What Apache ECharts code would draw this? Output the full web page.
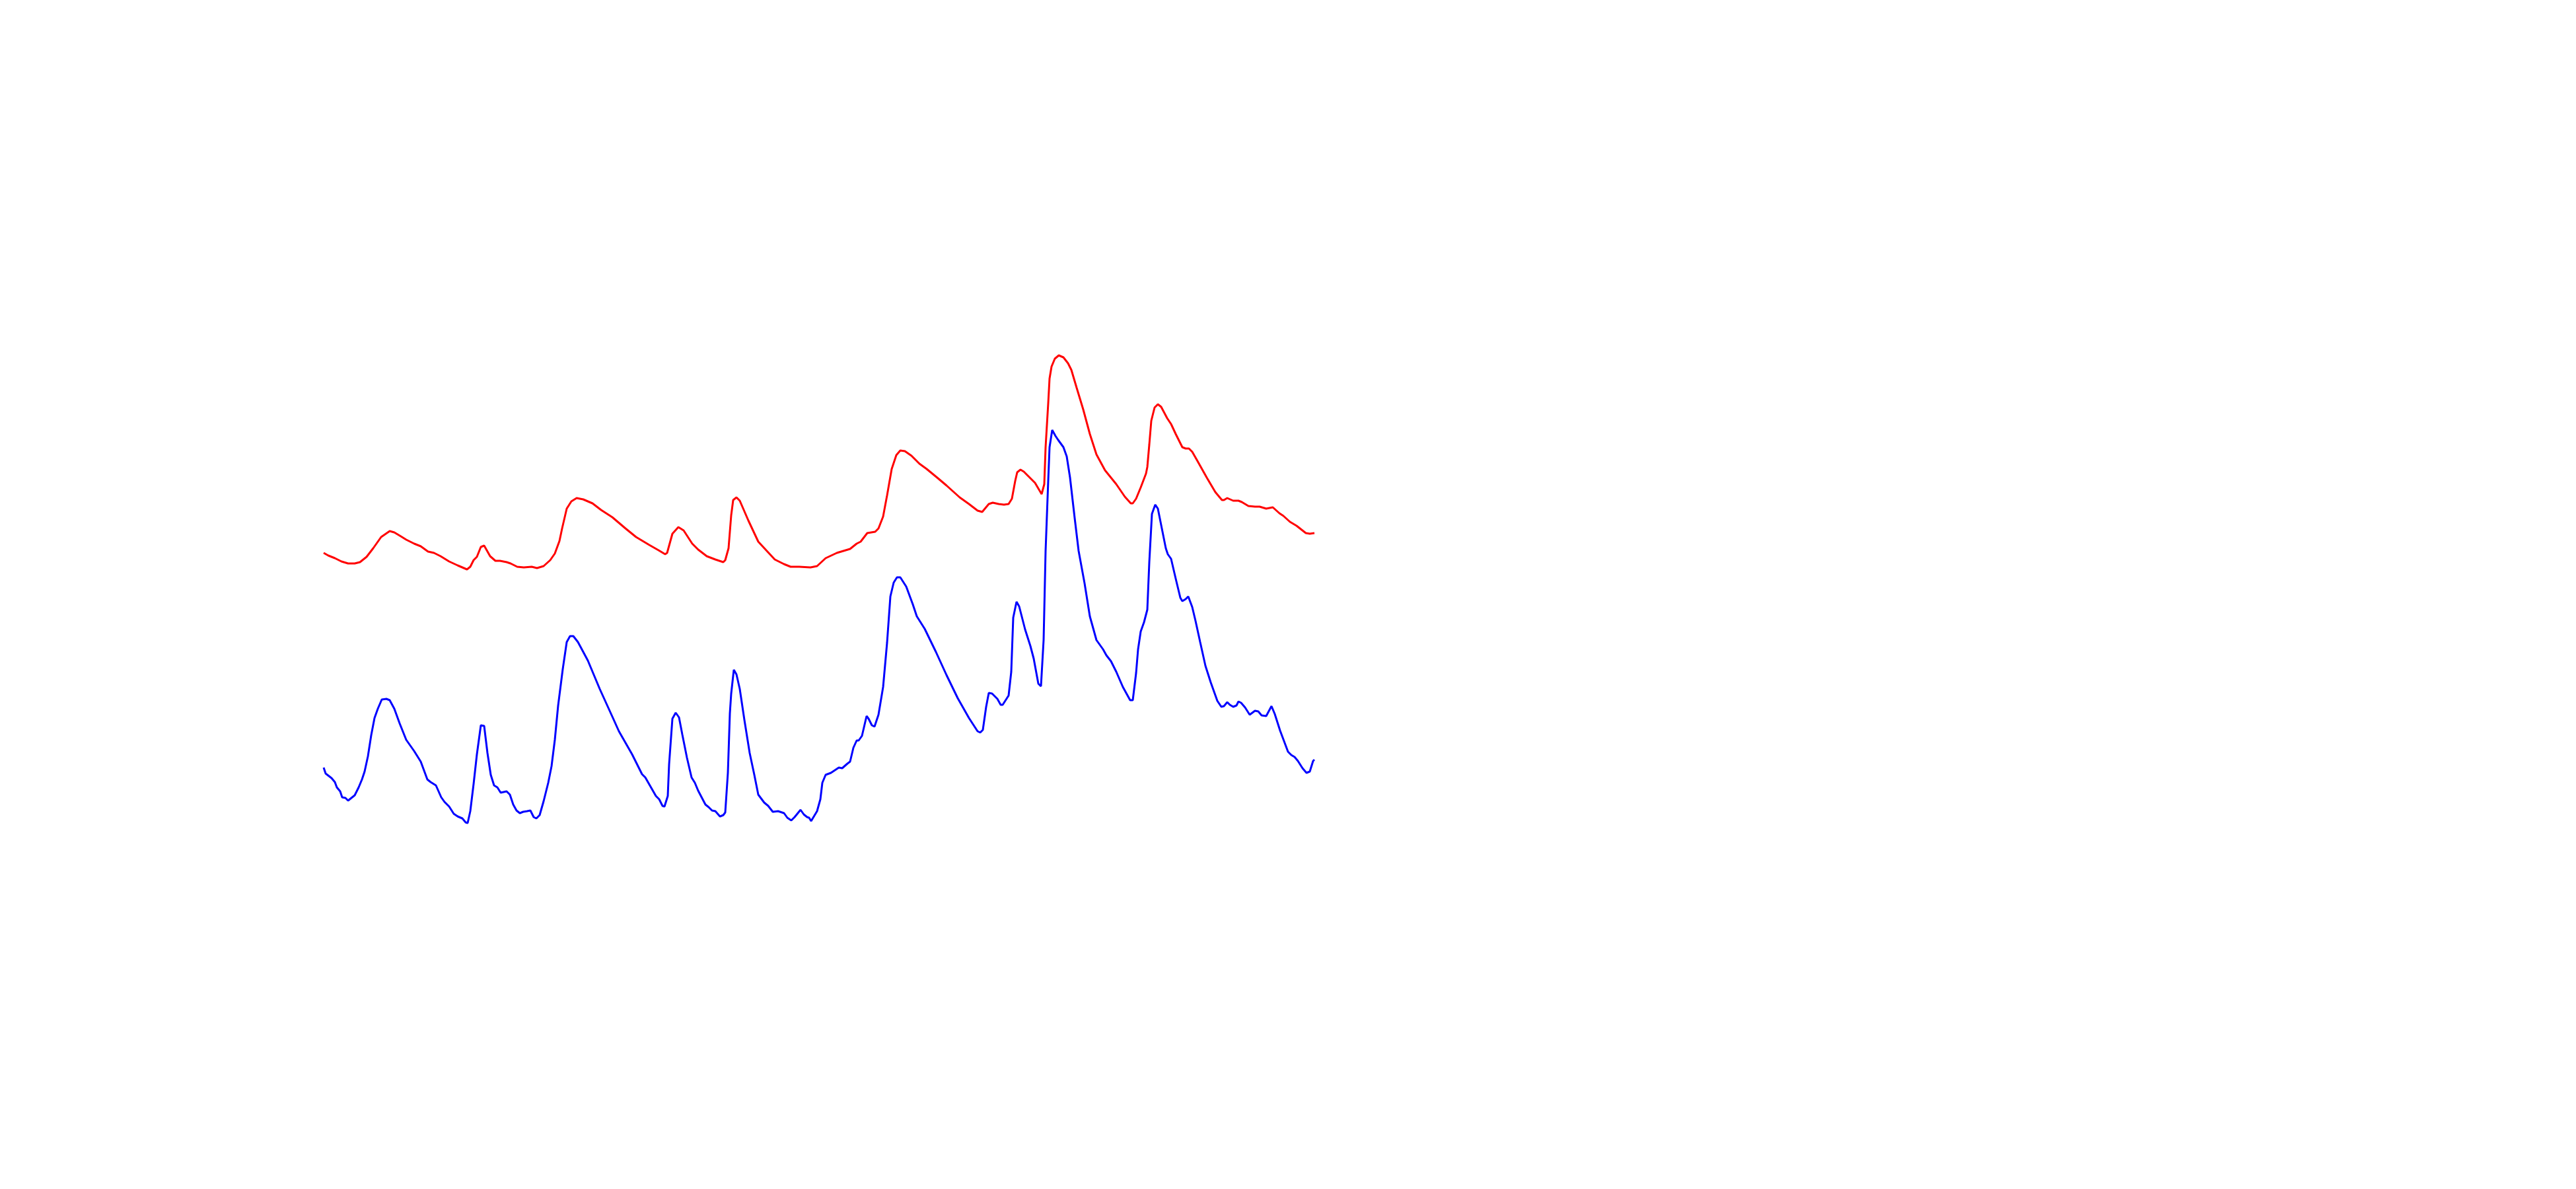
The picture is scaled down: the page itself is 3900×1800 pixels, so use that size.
<!DOCTYPE html>
<html>
<head>
<meta charset="utf-8">
<script src="https://cdn.jsdelivr.net/npm/echarts@6/dist/echarts.min.js"></script>
<style>html,body{margin:0;padding:0;background:#fff}#c{width:3900px;height:1800px}</style>
</head>
<body>
<div id="c"></div>
<script>
// x: sample position, y: value
const redSeries = [
[0,66.3],[0.7,65.9],[1.7,65.5],[2.7,65.0],[3.7,64.7],[4.7,64.7],[5.5,64.9],[6.5,65.7],[7.5,67.0],[8.7,68.7],
[10.0,69.6],[10.7,69.4],[11.7,68.8],[12.5,68.3],[13.7,67.7],[14.7,67.3],[15.8,66.5],[16.7,66.3],[17.7,65.8],[19.0,65.0],
[20.3,64.4],[21.7,63.8],[22.2,64.2],[22.7,65.2],[23.2,65.7],[23.8,67.2],[24.3,67.4],[25.2,65.8],[26.0,65.1],[26.7,65.1],
[27.7,64.9],[28.3,64.7],[29.3,64.2],[30.3,64.1],[31.5,64.2],[32.3,64.0],[33.3,64.3],[34.3,65.2],[35.0,66.2],[35.7,68.1],
[36.1,70.0],[36.8,73.0],[37.5,74.1],[38.3,74.6],[39.3,74.4],[40.7,73.8],[42.0,72.8],[43.7,71.7],[45.7,70.0],[47.3,68.7],
[49.3,67.5],[50.7,66.7],[51.7,66.1],[52.0,66.3],[52.8,69.2],[53.7,70.2],[54.5,69.7],[55.8,67.7],[56.7,66.8],[58.0,65.8],
[59.3,65.3],[60.5,64.9],[60.8,65.2],[61.3,67.0],[61.7,72.0],[62.0,74.3],[62.5,74.7],[63.0,74.2],[64.3,71.2],[65.8,68.0],
[67.0,66.7],[68.3,65.3],[69.7,64.6],[70.7,64.2],[72.0,64.2],[73.7,64.1],[74.7,64.3],[76.0,65.5],[77.7,66.3],[79.7,66.9],
[80.7,67.7],[81.3,68.0],[82.3,69.3],[83.5,69.5],[84.0,70.0],[84.7,71.8],[85.3,75.0],[86.0,79.0],[86.7,81.1],[87.3,81.8],
[88.0,81.7],[89.0,81.0],[90.2,79.8],[91.3,79.0],[93.0,77.6],[94.3,76.5],[96.3,74.7],[97.7,73.7],[99.0,72.7],[99.7,72.5],
[100.7,73.7],[101.3,73.9],[102.2,73.7],[103.0,73.6],[103.7,73.7],[104.2,74.5],[104.7,77.2],[105.0,78.5],[105.5,78.9],[106.0,78.6],
[107.0,77.6],[107.7,76.9],[108.7,75.2],[109.1,76.7],[109.3,82.3],[109.7,89.0],[109.9,92.7],[110.2,94.5],[110.7,95.7],[111.3,96.2],
[112.0,95.9],[112.7,95.0],[113.2,94.0],[114.0,91.3],[115.0,88.0],[116.0,84.3],[117.0,81.2],[118.3,78.8],[120.0,76.7],[121.3,74.8],
[122.2,73.8],[122.5,73.8],[123.0,74.5],[123.7,76.2],[124.5,78.3],[124.7,79.3],[125.0,82.7],[125.3,86.3],[125.8,88.3],[126.3,88.8],
[126.8,88.4],[127.7,86.7],[128.3,85.8],[129.0,84.3],[130.0,82.3],[130.5,82.1],[131.0,82.1],[131.5,81.6],[132.3,80.2],[133.7,77.7],
[135.0,75.5],[136.0,74.3],[136.3,74.3],[136.8,74.6],[137.7,74.2],[138.5,74.2],[139.0,74.0],[140.0,73.4],[141.0,73.3],[141.7,73.3],
[142.7,73.0],[143.7,73.2],[144.7,72.3],[145.3,71.9],[146.3,71.0],[147.3,70.4],[148.7,69.3],[149.3,69.2],[150.0,69.3]
];
const blueSeries = [
[0,33.8],[0.3,32.9],[1.2,32.2],[1.7,31.6],[2.0,30.8],[2.5,30.2],[2.8,29.3],[3.3,29.2],[3.7,28.8],[4.2,29.2],
[4.7,29.6],[5.3,30.8],[5.8,32.0],[6.2,33.2],[6.7,35.5],[7.2,38.7],[7.7,41.3],[8.2,42.7],[8.8,44.1],[9.5,44.2],
[10.0,44.0],[10.7,42.7],[11.5,40.5],[12.5,38.0],[13.7,36.3],[14.7,34.7],[15.7,32.0],[16.2,31.6],[17.0,31.1],[17.8,29.3],
[18.3,28.6],[19.0,27.9],[19.7,26.8],[20.3,26.4],[21.0,26.1],[21.5,25.5],[21.8,25.4],[22.2,27.2],[22.7,31.3],[23.2,35.8],
[23.8,40.2],[24.3,40.1],[24.8,36.0],[25.3,32.7],[25.8,31.1],[26.3,30.8],[26.8,30.0],[27.7,30.2],[28.2,29.7],[28.7,28.2],
[29.2,27.3],[29.7,26.9],[30.2,27.1],[30.8,27.2],[31.3,27.3],[31.8,26.3],[32.2,26.1],[32.7,26.6],[33.3,28.7],[34.0,31.5],
[34.5,34.0],[35.0,38.0],[35.5,43.2],[36.2,48.7],[36.8,52.8],[37.3,53.7],[37.8,53.7],[38.5,52.8],[40.0,50.0],[41.8,45.7],
[43.8,41.3],[44.7,39.3],[46.7,35.8],[48.2,32.8],[48.7,32.3],[50.3,29.5],[50.8,29.0],[51.3,28.0],[51.6,27.9],[52.1,29.5],
[52.3,34.3],[52.8,41.2],[53.3,42.1],[53.8,41.4],[54.3,38.8],[55.0,35.3],[55.7,32.3],[56.2,31.5],[56.7,30.3],[57.8,28.2],
[58.3,27.8],[58.8,27.3],[59.3,27.2],[60.0,26.4],[60.5,26.6],[60.8,27.0],[61.2,33.0],[61.5,42.0],[61.7,45.0],[62.1,48.6],
[62.5,47.9],[63.0,45.7],[63.7,41.0],[64.5,36.0],[65.2,32.7],[65.8,29.7],[66.7,28.5],[67.3,28.0],[68.0,27.1],[68.8,27.2],
[69.7,26.9],[70.2,26.2],[70.8,25.8],[71.3,26.3],[72.2,27.4],[72.7,26.7],[73.2,26.3],[73.5,26.2],[73.8,25.7],[74.7,27.2],
[75.2,29.0],[75.5,31.5],[76.0,32.7],[76.8,33.0],[78.0,33.8],[78.5,33.7],[79.3,34.4],[79.7,34.7],[80.2,36.8],[80.7,37.9],
[81.0,37.9],[81.5,38.6],[82.2,41.6],[82.5,41.2],[83.0,40.2],[83.4,40.0],[84.0,41.8],[84.7,46.0],[85.3,52.7],[85.8,59.7],
[86.3,61.8],[86.8,62.6],[87.3,62.6],[88.2,61.2],[89.2,58.5],[89.8,56.7],[91.0,54.8],[92.7,51.3],[94.3,47.8],[96.0,44.3],
[97.7,41.3],[99.0,39.3],[99.4,39.1],[99.8,39.5],[100.3,43.0],[100.7,45.1],[101.2,45.0],[102.0,44.2],[102.5,43.3],[102.8,43.3],
[103.7,44.7],[104.1,48.3],[104.4,56.5],[104.9,58.9],[105.3,58.2],[106.2,54.7],[107.0,52.2],[107.5,50.3],[108.2,46.5],[108.6,46.1],
[109.0,53.1],[109.3,66.6],[109.7,77.3],[109.9,82.3],[110.3,84.9],[110.8,84.0],[111.2,83.4],[112.0,82.3],[112.5,80.9],[113.0,77.7],
[113.7,71.6],[114.3,66.6],[115.2,61.7],[116.0,56.7],[117.0,53.1],[118.0,51.7],[118.5,50.8],[119.2,49.9],[120.0,48.3],[121.0,46.0],
[122.1,44.0],[122.5,44.0],[123.0,48.1],[123.3,51.7],[123.7,54.4],[124.2,55.8],[124.7,57.7],[125.0,64.9],[125.4,72.2],[125.9,73.6],
[126.3,73.0],[127.0,69.5],[127.5,67.0],[127.8,66.1],[128.3,65.4],[129.0,62.4],[129.7,59.5],[130.0,59.0],[130.5,59.3],[130.9,59.7],
[131.5,58.1],[132.0,56.0],[132.7,52.8],[133.5,49.2],[134.3,46.7],[135.3,43.9],[135.9,43.0],[136.3,43.1],[136.8,43.7],[137.2,43.3],
[137.7,43.0],[138.2,43.2],[138.5,43.8],[138.9,43.6],[139.5,42.9],[140.2,41.8],[141.0,42.4],[141.5,42.3],[142.0,41.7],[142.7,41.6],
[143.5,43.1],[144.0,41.9],[144.8,39.4],[146.0,36.2],[146.5,35.7],[147.0,35.4],[147.5,34.8],[148.2,33.7],[148.8,33.0],[149.3,33.2],
[149.8,34.8],[150.0,35.0]
];
const xRange = [0, 150];
const yRange = [0, 100];

const chart = echarts.init(document.getElementById('c'), null, {renderer: 'canvas'});
chart.setOption({
  animation: false,
  backgroundColor: '#ffffff',
  grid: {left: 490, width: 1500, top: 500, height: 1000},
  xAxis: {type: 'value', min: xRange[0], max: xRange[1], show: false},
  yAxis: {type: 'value', min: yRange[0], max: yRange[1], show: false},
  series: [
    {type: 'line', data: redSeries, showSymbol: false, lineStyle: {color: '#ff0000', width: 3}, itemStyle: {color: '#ff0000'}},
    {type: 'line', data: blueSeries, showSymbol: false, lineStyle: {color: '#0000ff', width: 3}, itemStyle: {color: '#0000ff'}}
  ]
});
</script>
</body>
</html>
